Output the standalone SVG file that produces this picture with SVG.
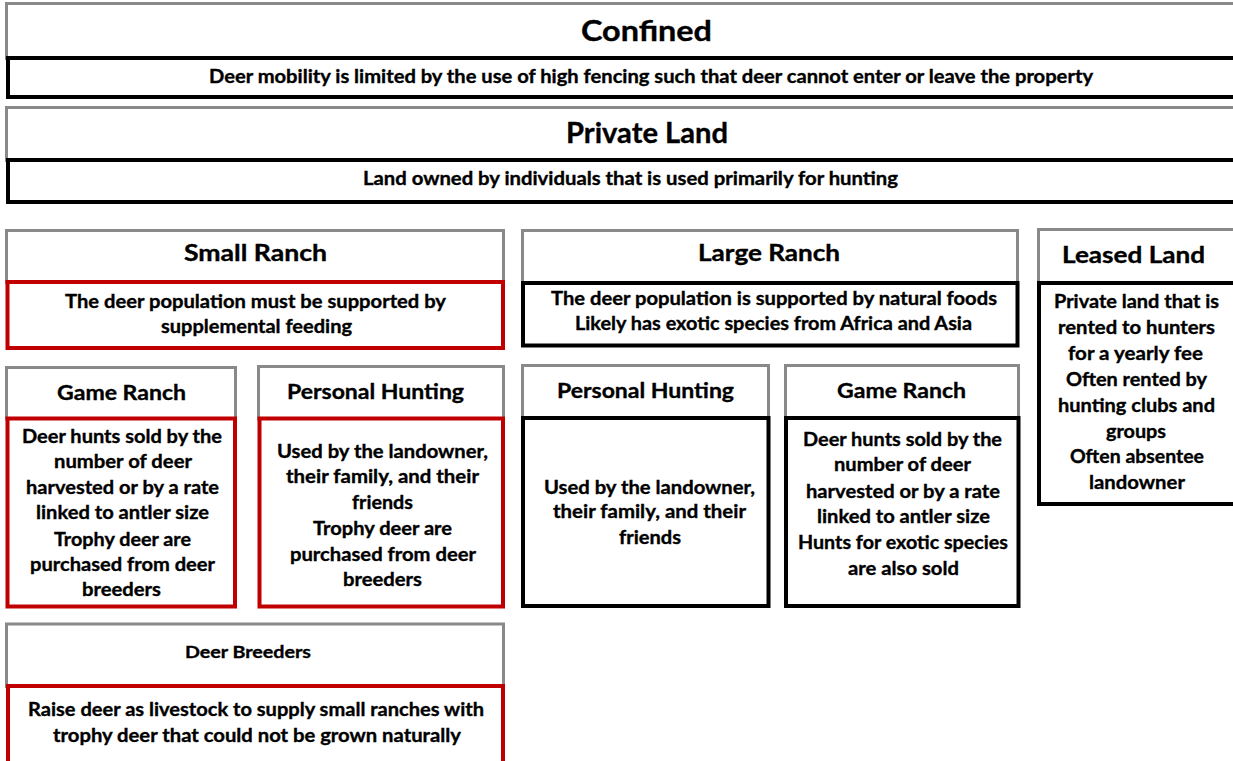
<svg xmlns="http://www.w3.org/2000/svg" width="1233" height="761" viewBox="0 0 1233 761">
  <style>
    .hd { fill: #ffffff; stroke: #898989; stroke-width: 3; }
    .bk { fill: #ffffff; stroke: #000000; stroke-width: 4; }
    .rd { fill: #ffffff; stroke: #c00000; stroke-width: 4; }
    text { font-family: Lato, "Open Sans", "Liberation Sans", sans-serif; font-weight: bold; fill: #000000; stroke: #000000; stroke-width: 0.35px; text-anchor: middle; }
    .t1 { font-size: 29px; }
    .t2 { font-size: 22px; }
    .t3 { font-size: 21px; }
    .t4 { font-size: 17px; }
    .b { font-size: 18.5px; }
  </style>
  <rect width="1233" height="761" fill="#ffffff"/>

  <g id="confined">
    <rect class="hd" x="6.5" y="3.5" width="1250" height="55"/>
    <rect class="bk" x="8" y="58" width="1250" height="39"/>
    <text class="t1" x="646.5" y="41" textLength="131" lengthAdjust="spacingAndGlyphs">Confined</text>
    <text class="b" x="651" y="83" textLength="884" lengthAdjust="spacingAndGlyphs">Deer mobility is limited by the use of high fencing such that deer cannot enter or leave the property</text>
  </g>

  <g id="private-land">
    <rect class="hd" x="6.5" y="107.5" width="1250" height="53"/>
    <rect class="bk" x="8" y="160" width="1250" height="42"/>
    <text class="t1" x="647" y="143" textLength="162" lengthAdjust="spacingAndGlyphs">Private Land</text>
    <text class="b" x="630.5" y="185" textLength="535" lengthAdjust="spacingAndGlyphs">Land owned by individuals that is used primarily for hunting</text>
  </g>

  <g id="small-ranch">
    <rect class="hd" x="6.5" y="230.5" width="497" height="52"/>
    <rect class="rd" x="7.5" y="282" width="495.5" height="66"/>
    <text class="t2" x="255.5" y="261" textLength="143" lengthAdjust="spacingAndGlyphs">Small Ranch</text>
    <text class="b" x="255.5" y="308" textLength="381" lengthAdjust="spacingAndGlyphs">The deer population must be supported by</text>
    <text class="b" x="256.5" y="333" textLength="191" lengthAdjust="spacingAndGlyphs">supplemental feeding</text>
  </g>

  <g id="large-ranch">
    <rect class="hd" x="522.5" y="230.5" width="495" height="53"/>
    <rect class="bk" x="523" y="283" width="494.5" height="62.5"/>
    <text class="t2" x="769" y="261" textLength="142" lengthAdjust="spacingAndGlyphs">Large Ranch</text>
    <text class="b" x="774" y="305" textLength="446" lengthAdjust="spacingAndGlyphs">The deer population is supported by natural foods</text>
    <text class="b" x="773.5" y="330" textLength="397" lengthAdjust="spacingAndGlyphs">Likely has exotic species from Africa and Asia</text>
  </g>

  <g id="leased-land">
    <rect class="hd" x="1038.5" y="229.5" width="250" height="54"/>
    <rect class="bk" x="1039" y="283" width="250" height="221"/>
    <text class="t2" x="1133.5" y="263" textLength="143" lengthAdjust="spacingAndGlyphs">Leased Land</text>
    <text class="b" x="1136.5" y="308" textLength="165" lengthAdjust="spacingAndGlyphs">Private land that is</text>
    <text class="b" x="1136.5" y="334" textLength="157" lengthAdjust="spacingAndGlyphs">rented to hunters</text>
    <text class="b" x="1135.5" y="360" textLength="135" lengthAdjust="spacingAndGlyphs">for a yearly fee</text>
    <text class="b" x="1136.5" y="386" textLength="141" lengthAdjust="spacingAndGlyphs">Often rented by</text>
    <text class="b" x="1136.5" y="412" textLength="157" lengthAdjust="spacingAndGlyphs">hunting clubs and</text>
    <text class="b" x="1136" y="438" textLength="60" lengthAdjust="spacingAndGlyphs">groups</text>
    <text class="b" x="1137" y="463" textLength="134" lengthAdjust="spacingAndGlyphs">Often absentee</text>
    <text class="b" x="1137" y="489" textLength="96" lengthAdjust="spacingAndGlyphs">landowner</text>
  </g>

  <g id="small-game-ranch">
    <rect class="hd" x="6.5" y="367.5" width="229" height="51.5"/>
    <rect class="rd" x="7.5" y="418.5" width="227.5" height="188"/>
    <text class="t3" x="121.5" y="400" textLength="129" lengthAdjust="spacingAndGlyphs">Game Ranch</text>
    <text class="b" x="122" y="443" textLength="200" lengthAdjust="spacingAndGlyphs">Deer hunts sold by the</text>
    <text class="b" x="123" y="468" textLength="138" lengthAdjust="spacingAndGlyphs">number of deer</text>
    <text class="b" x="122.5" y="494" textLength="193" lengthAdjust="spacingAndGlyphs">harvested or by a rate</text>
    <text class="b" x="122.5" y="519" textLength="173" lengthAdjust="spacingAndGlyphs">linked to antler size</text>
    <text class="b" x="122.5" y="546" textLength="137" lengthAdjust="spacingAndGlyphs">Trophy deer are</text>
    <text class="b" x="122.5" y="571" textLength="185" lengthAdjust="spacingAndGlyphs">purchased from deer</text>
    <text class="b" x="121.5" y="596" textLength="79" lengthAdjust="spacingAndGlyphs">breeders</text>
  </g>

  <g id="small-personal-hunting">
    <rect class="hd" x="258.5" y="366.5" width="245" height="52.5"/>
    <rect class="rd" x="259.5" y="418.5" width="243.5" height="188"/>
    <text class="t3" x="375.5" y="399" textLength="177" lengthAdjust="spacingAndGlyphs">Personal Hunting</text>
    <text class="b" x="382.5" y="458" textLength="211" lengthAdjust="spacingAndGlyphs">Used by the landowner,</text>
    <text class="b" x="382.5" y="483" textLength="193" lengthAdjust="spacingAndGlyphs">their family, and their</text>
    <text class="b" x="382.5" y="509" textLength="61" lengthAdjust="spacingAndGlyphs">friends</text>
    <text class="b" x="382.5" y="535" textLength="139" lengthAdjust="spacingAndGlyphs">Trophy deer are</text>
    <text class="b" x="383" y="561" textLength="186" lengthAdjust="spacingAndGlyphs">purchased from deer</text>
    <text class="b" x="382.5" y="586" textLength="79" lengthAdjust="spacingAndGlyphs">breeders</text>
  </g>

  <g id="large-personal-hunting">
    <rect class="hd" x="522.5" y="365.5" width="246" height="53"/>
    <rect class="bk" x="523" y="418" width="245.5" height="188"/>
    <text class="t3" x="645.5" y="398" textLength="177" lengthAdjust="spacingAndGlyphs">Personal Hunting</text>
    <text class="b" x="649.5" y="494" textLength="211" lengthAdjust="spacingAndGlyphs">Used by the landowner,</text>
    <text class="b" x="649.5" y="518" textLength="193" lengthAdjust="spacingAndGlyphs">their family, and their</text>
    <text class="b" x="650" y="544" textLength="62" lengthAdjust="spacingAndGlyphs">friends</text>
  </g>

  <g id="large-game-ranch">
    <rect class="hd" x="785.5" y="365.5" width="233" height="53"/>
    <rect class="bk" x="786" y="418" width="232.5" height="188"/>
    <text class="t3" x="901.5" y="398" textLength="129" lengthAdjust="spacingAndGlyphs">Game Ranch</text>
    <text class="b" x="902.5" y="446" textLength="199" lengthAdjust="spacingAndGlyphs">Deer hunts sold by the</text>
    <text class="b" x="902.5" y="471" textLength="137" lengthAdjust="spacingAndGlyphs">number of deer</text>
    <text class="b" x="903" y="498" textLength="194" lengthAdjust="spacingAndGlyphs">harvested or by a rate</text>
    <text class="b" x="903.5" y="523" textLength="173" lengthAdjust="spacingAndGlyphs">linked to antler size</text>
    <text class="b" x="903" y="549" textLength="210" lengthAdjust="spacingAndGlyphs">Hunts for exotic species</text>
    <text class="b" x="903.5" y="575" textLength="111" lengthAdjust="spacingAndGlyphs">are also sold</text>
  </g>

  <g id="deer-breeders">
    <rect class="hd" x="6.5" y="624" width="497" height="62.5"/>
    <rect class="rd" x="8" y="686" width="495" height="90"/>
    <text class="t4" x="248" y="658" textLength="126" lengthAdjust="spacingAndGlyphs">Deer Breeders</text>
    <text class="b" x="256" y="716" textLength="456" lengthAdjust="spacingAndGlyphs">Raise deer as livestock to supply small ranches with</text>
    <text class="b" x="257" y="742" textLength="408" lengthAdjust="spacingAndGlyphs">trophy deer that could not be grown naturally</text>
  </g>

  <!-- the boxes stand alone; no connectors are drawn -->
  <g id="connectors"/>
</svg>
